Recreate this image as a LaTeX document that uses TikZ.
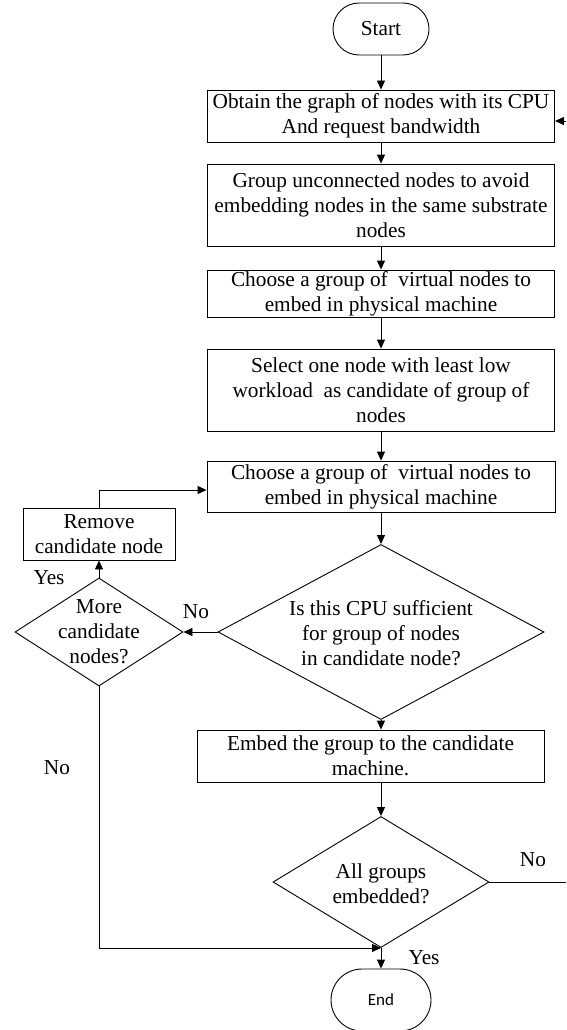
\documentclass[tikz,border=0pt]{standalone}
\usepackage{fontspec}
\setmainfont{Liberation Serif}
\newfontfamily\endfont{Carlito}
\usetikzlibrary{shapes.geometric,arrows.meta,calc}
\begin{document}
\begin{tikzpicture}[x=1pt,y=-1pt,
  every node/.style={font=\fontsize{21.3}{25}\selectfont},
  box/.style={draw, line width=0.9pt, align=center, inner sep=0pt},
  term/.style={draw, line width=0.9pt, align=center, inner sep=0pt},
  dia/.style={draw, diamond, line width=0.9pt, inner sep=0pt},
  lbl/.style={inner sep=0pt, align=center},
  arr/.style={line width=0.9pt, -{Triangle[length=9pt,width=8pt]}},
  ln/.style={line width=0.9pt}]
\useasboundingbox (0,0) rectangle (566,1030);

\node[term, rounded corners=26pt, minimum width=96pt, minimum height=52pt] (start) at (381,29) {Start};
\node[box, minimum width=347pt, minimum height=52pt] (b1) at (381,116) {Obtain the graph of nodes with its CPU\\And request bandwidth};
\node[box, minimum width=347pt, minimum height=82pt] (b2) at (381,205) {Group unconnected nodes to avoid\\embedding nodes in the same substrate\\nodes};
\node[box, minimum width=347pt, minimum height=47pt] (b3) at (381,293.5) {Choose a group of~ virtual nodes to\\embed in physical machine};
\node[box, minimum width=347pt, minimum height=82pt] (b4) at (381,390) {Select one node with least low\\workload~ as candidate of group of\\nodes};
\node[box, minimum width=348pt, minimum height=51pt] (b5) at (381,486.5) {Choose a group of~ virtual nodes to\\embed in physical machine};
\node[box, minimum width=152pt, minimum height=52pt] (rem) at (99,534) {Remove\\candidate node};
\node[dia, minimum width=326pt, minimum height=175pt] (d1) at (381,632) {};
\node[lbl] (d1t) at (381,633) {Is this CPU sufficient\\for group of nodes\\in candidate node?};
\node[dia, minimum width=168pt, minimum height=108pt] (d0) at (99,632) {};
\node[lbl] (d0t) at (99,632) {More\\candidate\\nodes?};
\node[box, minimum width=347pt, minimum height=52pt] (b6) at (370.5,756) {Embed the group to the candidate\\machine.};
\node[dia, minimum width=216pt, minimum height=131pt] (d2) at (381,882) {};
\node[lbl] (d2t) at (381,884) {All groups\\embedded?};
\node[term, rounded corners=31pt, minimum width=100pt, minimum height=62pt, font=\endfont\fontsize{17}{20}\selectfont] (end) at (381,1000) {End};

\node[lbl] (ly1) at (49,578) {Yes};
\node[lbl] (ln1) at (196,612) {No};
\node[lbl] (ln2) at (57,768) {No};
\node[lbl] (ln3) at (533,860) {No};
\node[lbl] (ly2) at (424,958) {Yes};

\coordinate (fr1) at (566,882);
\coordinate (fr2) at (566,121);

\draw[arr] (start.south) -- (b1.north);
\draw[arr] (b1.south) -- (b2.north);
\draw[arr] (b2.south) -- (b3.north);
\draw[arr] (b3.south) -- (b4.north);
\draw[arr] (b4.south) -- (b5.north);
\draw[arr] (b5.south) -- (d1.north);
\draw[arr] (d1.south) -- (d1.south |- b6.north);
\draw[arr] (b6.south -| d2.north) -- (d2.north);
\draw[arr] (d2.south) -- (end.north);
\draw[arr] (d1.west) -- (d0.east);
\draw[arr] (d0.north) -- (rem.south);
\draw[arr] (rem.north) |- ([yshift=-3.5pt]b5.west);
\draw[arr] (d0.south) |- (d2.south);
\draw[ln] (d2.east) -- (fr1);
\draw[arr] (fr2) -- (b1.east |- fr2);
\end{tikzpicture}
\end{document}
